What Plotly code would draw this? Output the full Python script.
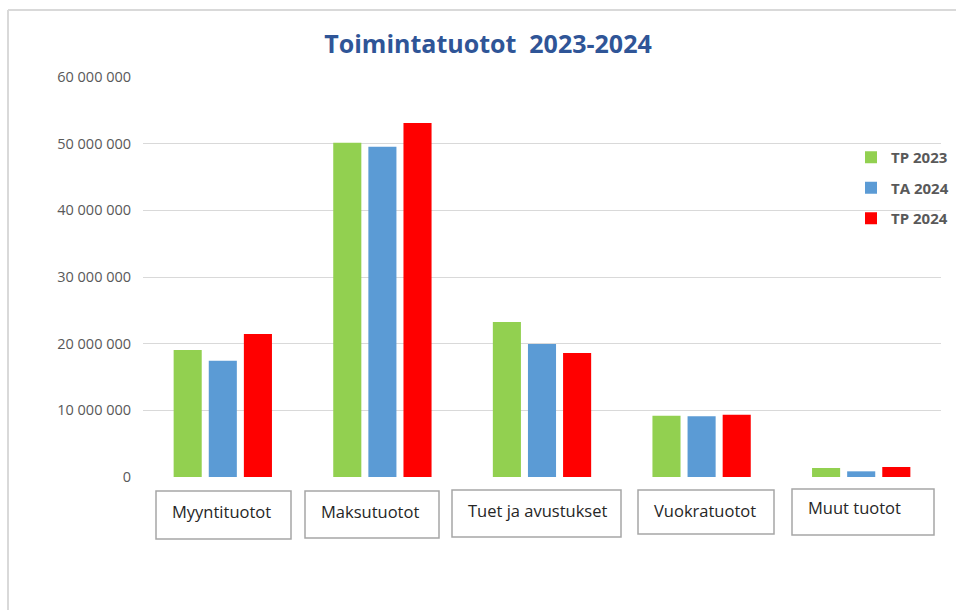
import plotly.graph_objects as go

categories = ["Myyntituotot", "Maksutuotot", "Tuet ja avustukset", "Vuokratuotot", "Muut tuotot"]
series_names = ["TP 2023", "TA 2024", "TP 2024"]
tp2023 = [19050000, 50150000, 23250000, 9200000, 1350000]
ta2024 = [17450000, 49550000, 19950000, 9100000, 850000]
tp2024 = [21450000, 53100000, 18600000, 9350000, 1500000]
tick_vals = [0, 10000000, 20000000, 30000000, 40000000, 50000000, 60000000]

colors = ["#92D050", "#5B9BD5", "#FF0000"]

W, H = 956, 610
L, R, T, B = 143, 941, 77, 477

def px(x):
    return (x - L) / (R - L)

def py(y):
    return (B - y) / (B - T)

fig = go.Figure()
for i, (name, vals) in enumerate(zip(series_names, [tp2023, ta2024, tp2024])):
    fig.add_trace(go.Bar(
        x=categories, y=vals, name=name,
        marker=dict(color=colors[i], line=dict(width=0)),
        legendgroup=name,
    ))

shapes = []
annotations = []
# category label boxes (pixel positions)
boxes = [(156, 291, 491, 539, 511), (305, 439, 491, 538, 511), (452, 621, 490, 537, 510),
         (638, 774, 490, 534, 510), (792, 934, 489, 535, 507)]
for cat, (x0, x1, y0, y1, ty) in zip(categories, boxes):
    shapes.append(dict(type="rect", xref="paper", yref="paper",
                       x0=px(x0), x1=px(x1), y0=py(y1), y1=py(y0),
                       line=dict(color="#A6A6A6", width=1.5), fillcolor="white", layer="above"))
    annotations.append(dict(text=cat, xref="paper", yref="paper", x=px(x0 + 14), y=py(ty),
                            xanchor="left", yanchor="middle", showarrow=False,
                            font=dict(family="Open Sans, sans-serif", size=16.5, color="#262626")))

# outer frame lines
shapes.append(dict(type="line", xref="paper", yref="paper", x0=px(8), x1=px(956), y0=py(10), y1=py(10),
                   line=dict(color="#D9D9D9", width=2)))
shapes.append(dict(type="line", xref="paper", yref="paper", x0=px(8), x1=px(8), y0=py(10), y1=py(612),
                   line=dict(color="#D9D9D9", width=2)))

fig.update_layout(
    width=W, height=H,
    margin=dict(l=L, r=W - R, t=T, b=H - B, pad=0, autoexpand=False),
    paper_bgcolor="white", plot_bgcolor="white",
    separators=", ",
    title=dict(text="<b>Toimintatuotot  2023-2024</b>", xref="container", x=488 / W, xanchor="center",
               y=1 - 44 / H, yanchor="middle",
               font=dict(family="Open Sans, sans-serif", size=25, color="#2F5597")),
    barmode="group", bargap=0.34, bargroupgap=0.2,
    xaxis=dict(showticklabels=False, showgrid=False, showline=False, ticks="", fixedrange=True),
    yaxis=dict(range=[0, 60000000], tickvals=tick_vals, tickformat=",d",
               showgrid=True, gridcolor="#D9D9D9", gridwidth=1.3, zeroline=False,
               showline=False, ticks="outside", ticklen=8, tickcolor="rgba(0,0,0,0)",
               tickfont=dict(family="Open Sans, sans-serif", size=14.5, color="#595959")),
    legend=dict(xref="container", yref="container", x=851 / W, y=1 - 141 / H,
                xanchor="left", yanchor="top",
                traceorder="grouped", tracegroupgap=8,
                font=dict(family="Open Sans, sans-serif", size=15, color="#595959", weight="bold"),
                bgcolor="rgba(0,0,0,0)"),
    shapes=shapes, annotations=annotations,
)

fig.write_html("out.html", post_script="document.body.style.margin='0';",
               config={"displayModeBar": False})
